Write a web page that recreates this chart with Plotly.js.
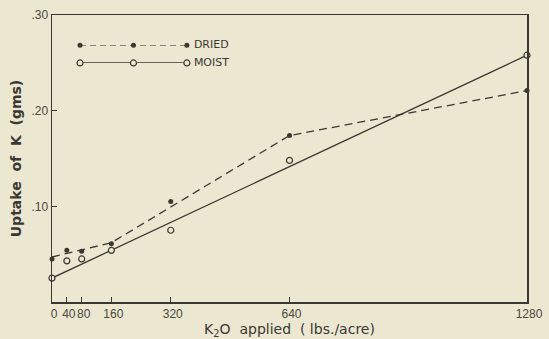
<!DOCTYPE html>
<html>
<head>
<meta charset="utf-8">
<script src="https://cdn.plot.ly/plotly-3.0.1.min.js"></script>
<style>
  html, body { margin: 0; padding: 0; background: #ece7d1; }
  #chart { width: 549px; height: 339px; }
</style>
</head>
<body>
<div id="chart"></div>
<script>
// K2O applied (lbs./acre)
const rates = [0, 40, 80, 160, 320, 640, 1280];
// Uptake of K (gms), observed points
const driedUptake = [0.045, 0.054, 0.053, 0.061, 0.105, 0.174, 0.221];
const moistUptake = [0.025, 0.043, 0.045, 0.054, 0.075, 0.148, 0.258];
// Drawn curves
const driedCurveX = [0, 160, 640, 1280];
const driedCurveY = [0.047, 0.062, 0.174, 0.221];
const moistCurveX = [0, 1280];
const moistCurveY = [0.025, 0.258];
// Tick labels
const xTickVals = [0, 40, 80, 160, 320, 640, 1280];
const xTickText = ['0', '40', '80', '160', '320', '640', '1280'];
const yTickVals = [0.10, 0.20, 0.30];
const yTickText = ['.10', '.20', '.30'];
// Legend key
const legendX = [0, 1, 2];
const legendLabelX = [2];
const legendNames = ['DRIED', 'MOIST'];

const ink = '#3a3833';
const bg = '#ece7d1';
const fontFam = '"DejaVu Sans", Arial, sans-serif';
const nb = '\u00a0\u00a0';

const traces = [
  { x: driedCurveX, y: driedCurveY, mode: 'lines', line: { color: ink, width: 1.3, dash: '8px,5px' }, hoverinfo: 'skip' },
  { x: moistCurveX, y: moistCurveY, mode: 'lines', line: { color: ink, width: 1.3 }, hoverinfo: 'skip' },
  { x: rates, y: driedUptake, mode: 'markers', marker: { symbol: 'circle', size: 5, color: ink }, cliponaxis: false },
  { x: rates, y: moistUptake, mode: 'markers', marker: { symbol: 'circle', size: 6, color: bg, line: { color: ink, width: 1.2 } }, cliponaxis: false },
  { x: legendX, y: [1, 1, 1], xaxis: 'x2', yaxis: 'y2', mode: 'lines+markers',
    line: { color: ink, width: 1.2, dash: '6px,4px' }, marker: { symbol: 'circle', size: 5, color: ink }, cliponaxis: false },
  { x: legendX, y: [0, 0, 0], xaxis: 'x2', yaxis: 'y2', mode: 'lines+markers',
    line: { color: ink, width: 1.2 }, marker: { symbol: 'circle', size: 6, color: bg, line: { color: ink, width: 1.2 } }, cliponaxis: false },
  { x: legendLabelX, y: [1], xaxis: 'x2', yaxis: 'y2', mode: 'text', text: [nb + legendNames[0]], textposition: 'middle right',
    textfont: { family: fontFam, size: 11, color: ink }, cliponaxis: false },
  { x: legendLabelX, y: [0], xaxis: 'x2', yaxis: 'y2', mode: 'text', text: [nb + legendNames[1]], textposition: 'middle right',
    textfont: { family: fontFam, size: 11, color: ink }, cliponaxis: false }
];

const layout = {
  width: 549, height: 339,
  margin: { l: 52, r: 22, t: 15, b: 37 },
  paper_bgcolor: bg, plot_bgcolor: bg,
  font: { family: fontFam, color: ink },
  showlegend: false,
  xaxis: {
    range: [0, 1280], tickvals: xTickVals, ticktext: xTickText, tickangle: 0,
    ticks: 'inside', ticklen: 5, tickcolor: ink, tickwidth: 1,
    showline: true, linecolor: ink, linewidth: 1.5, mirror: true,
    showgrid: false, zeroline: false,
    tickfont: { family: '"Liberation Sans", Arial, sans-serif', size: 12, color: '#4a4740' },
    ticklabelshift: 2, ticklabelstandoff: 0,
    title: { text: 'K<sub>2</sub>O  applied  ( lbs./acre)', font: { size: 14, color: ink }, standoff: 3 }
  },
  yaxis: {
    range: [0, 0.30], tickvals: yTickVals, ticktext: yTickText,
    ticks: 'inside', ticklen: 5, tickcolor: ink, tickwidth: 1,
    showline: true, linecolor: ink, linewidth: 1.5, mirror: true,
    showgrid: false, zeroline: false,
    tickfont: { family: '"Liberation Sans", Arial, sans-serif', size: 12, color: '#4a4740' },
    title: { text: '<b>Uptake  of  K  (gms)</b>', font: { size: 14, color: ink }, standoff: 6 }
  },
  xaxis2: { domain: [0.059, 0.284], range: [0, 2], anchor: 'y2', visible: false, fixedrange: true },
  yaxis2: { domain: [0.833, 0.895], range: [0, 1], anchor: 'x2', visible: false, fixedrange: true }
};

Plotly.newPlot('chart', traces.map(t => Object.assign({ showlegend: false }, t)), layout, { displayModeBar: false, staticPlot: true });
</script>
</body>
</html>
